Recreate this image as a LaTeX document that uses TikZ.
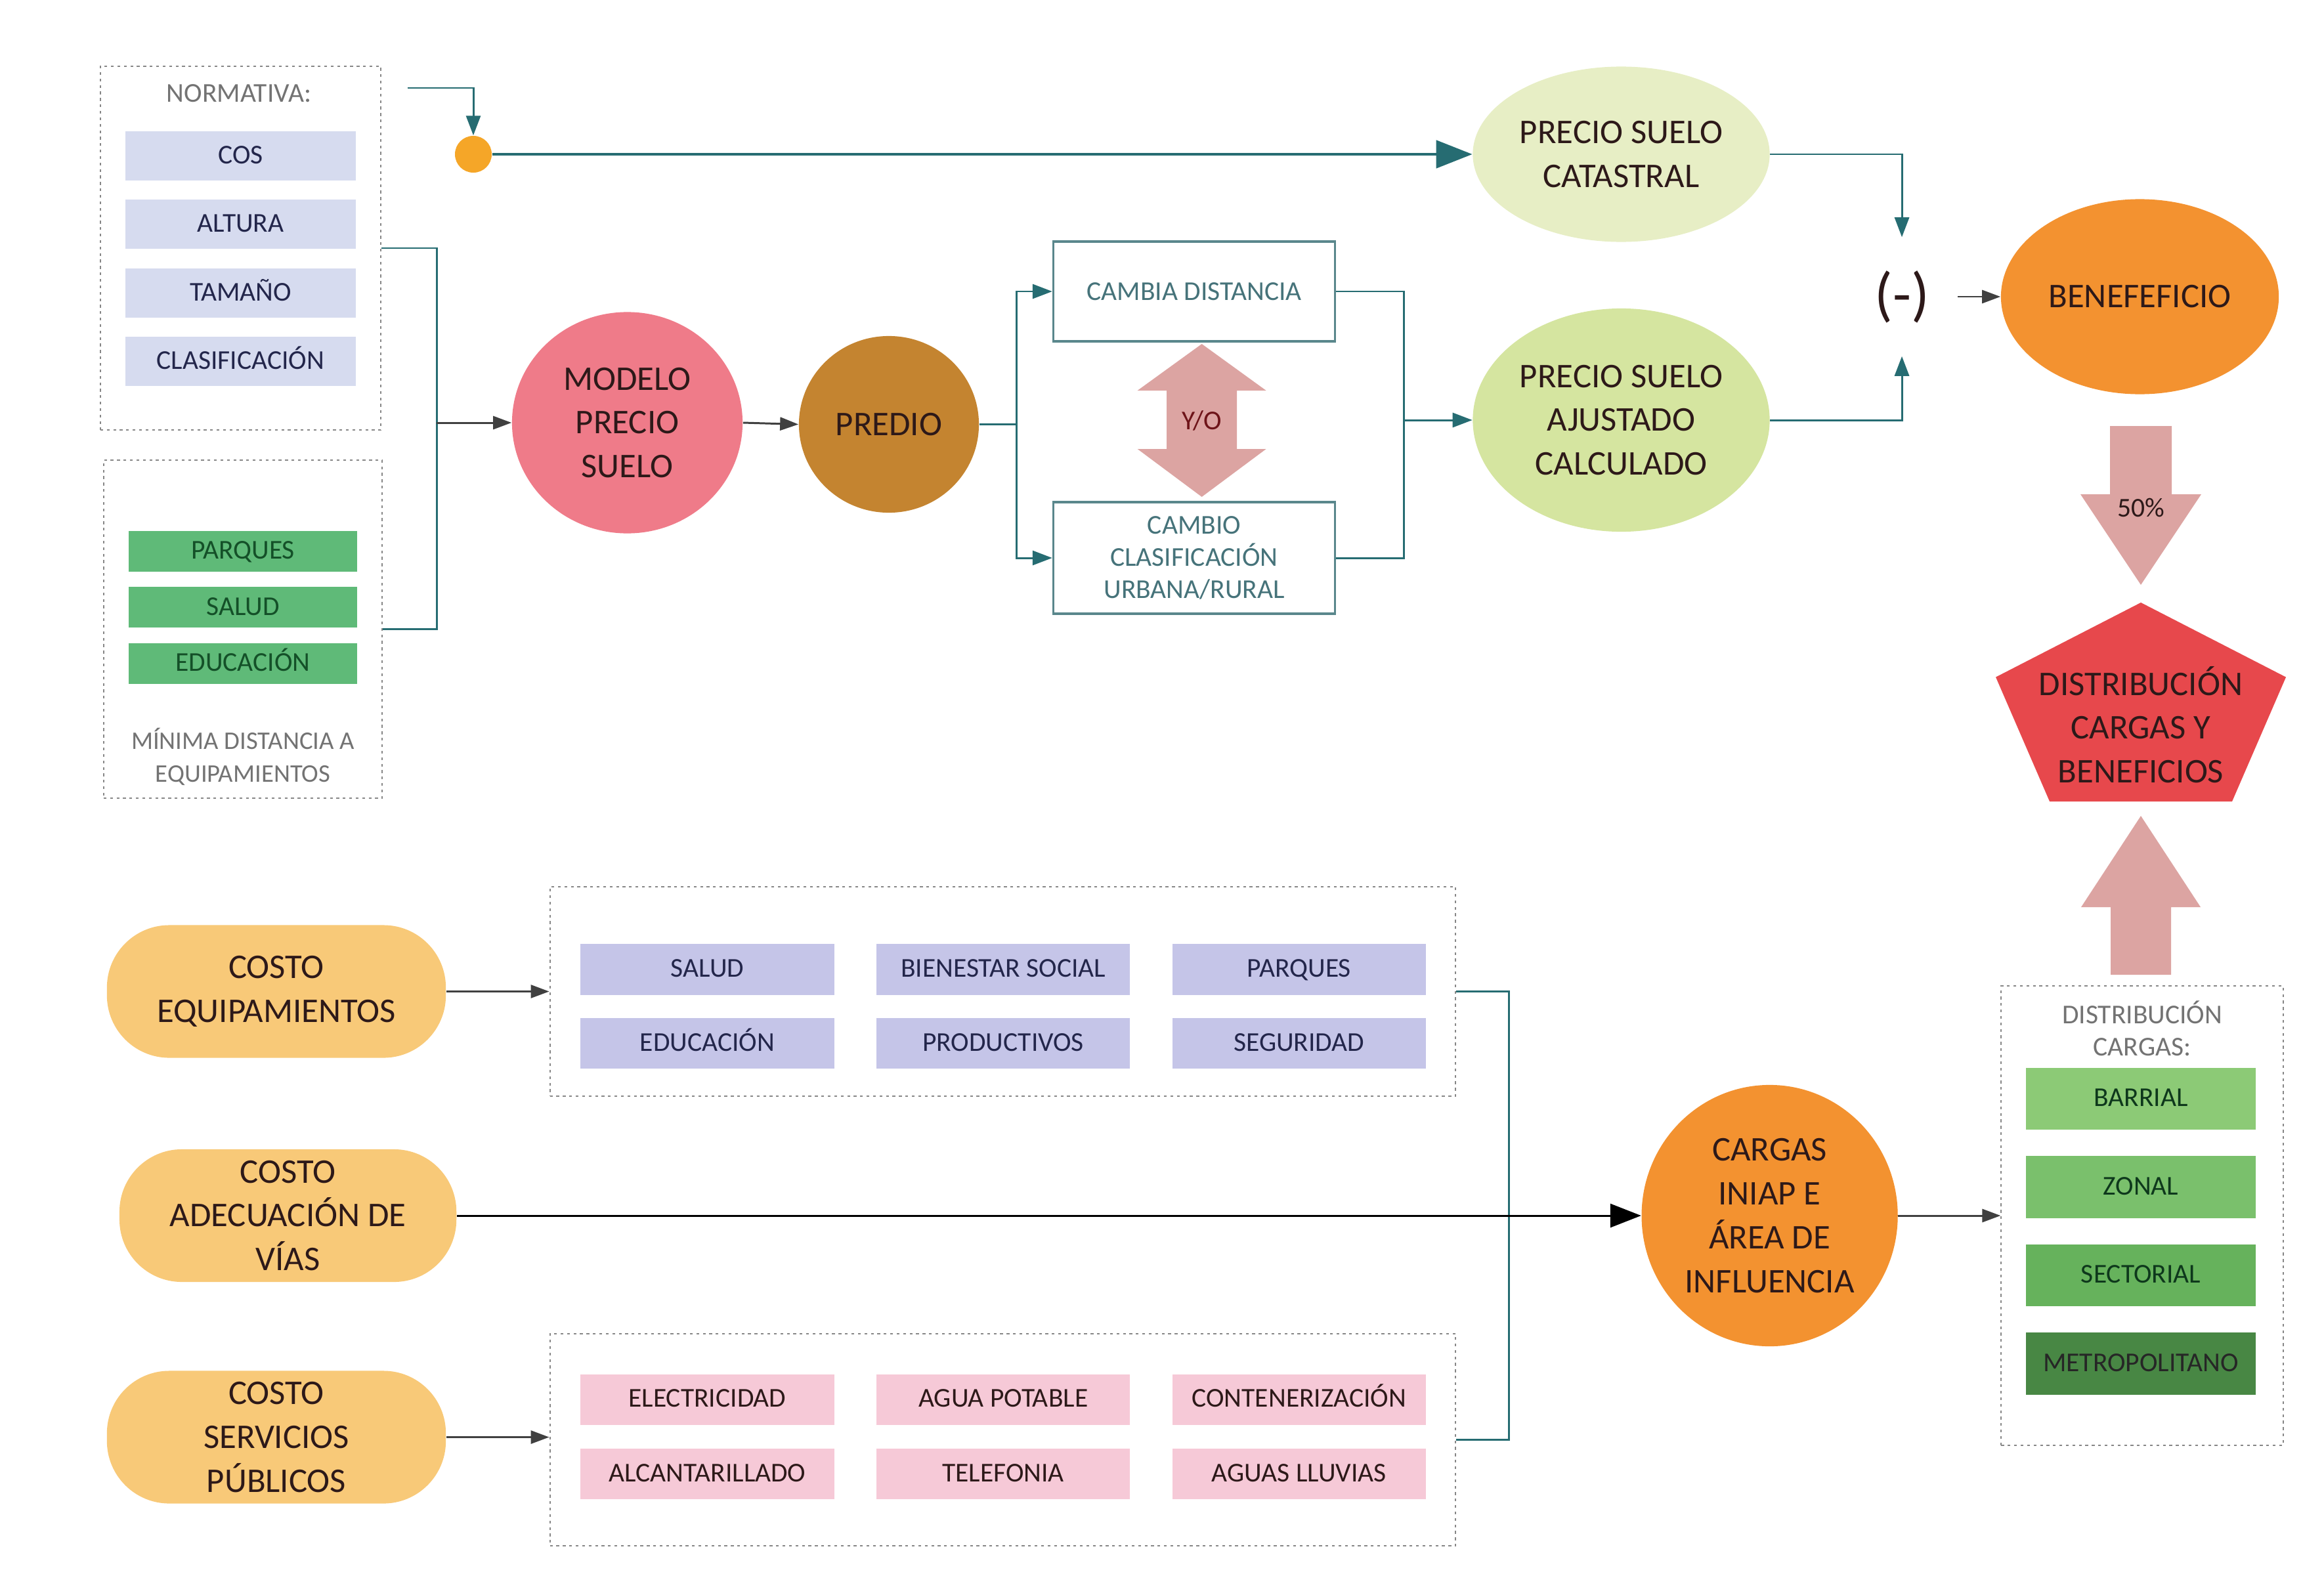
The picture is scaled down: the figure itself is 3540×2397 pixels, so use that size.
\documentclass[tikz,border=0pt]{standalone}
\usepackage{fontspec}
\setmainfont{Carlito}
\usepackage{tikz}
\usepackage{xcolor}
\usetikzlibrary{arrows.meta, positioning, shapes.geometric}
\definecolor{tealLine}{RGB}{38,108,114}
\definecolor{tealBox}{RGB}{90,135,140}
\definecolor{grpGray}{RGB}{135,135,135}
\definecolor{lavTop}{RGB}{214,219,239}
\definecolor{lavLow}{RGB}{197,197,232}
\definecolor{pinkBox}{RGB}{246,201,215}
\definecolor{grnMid}{RGB}{95,186,120}
\definecolor{grnBarrial}{RGB}{140,202,118}
\definecolor{grnZonal}{RGB}{122,192,108}
\definecolor{grnSect}{RGB}{102,178,92}
\definecolor{grnMetro}{RGB}{72,135,68}
\definecolor{costoOrange}{RGB}{248,201,120}
\definecolor{modeloPink}{RGB}{239,123,137}
\definecolor{predioBrown}{RGB}{196,132,48}
\definecolor{catastralGreen}{RGB}{231,238,197}
\definecolor{ajustadoGreen}{RGB}{213,229,160}
\definecolor{okOrange}{RGB}{243,146,48}
\definecolor{dotOrange}{RGB}{245,166,40}
\definecolor{pentRed}{RGB}{231,72,76}
\definecolor{blockPink}{RGB}{220,164,162}
\definecolor{txtDark}{RGB}{45,25,25}
\definecolor{txtNavy}{RGB}{35,38,75}
\definecolor{txtGreen}{RGB}{20,80,40}
\definecolor{txtTeal}{RGB}{70,115,122}
\definecolor{yoRed}{RGB}{110,20,25}

\begin{document}
\begin{tikzpicture}[
    x=0.01cm, y=-0.01cm,
    every node/.style={font=\fontsize{11.8}{14}\selectfont, text=txtDark, inner sep=2pt},
    bigf/.style  ={font=\fontsize{15}{19}\selectfont, align=center},
    group/.style ={rectangle, draw=grpGray, line width=0.6pt, dash pattern=on 1.2pt off 1.6pt, minimum width=4.27cm},
    lbl/.style   ={text=grpGray!85!black, align=center},
    flat/.style  ={rectangle, text height=1.7ex, text depth=0.3ex},
    lav/.style   ={flat, fill=lavTop, text=txtNavy, minimum width=3.51cm, minimum height=0.75cm},
    grn/.style   ={flat, fill=grnMid, text=txtGreen, minimum width=3.48cm, minimum height=0.62cm},
    lavl/.style  ={flat, fill=lavLow, text=txtNavy, minimum width=3.86cm, minimum height=0.77cm},
    pnk/.style   ={flat, fill=pinkBox, minimum width=3.86cm, minimum height=0.77cm},
    lvl/.style   ={flat, text=txtGreen!70!black, minimum width=3.5cm, minimum height=0.94cm},
    chg/.style   ={rectangle, draw=tealBox, line width=0.9pt, fill=white, text=txtTeal, align=center, minimum width=4.29cm},
    blob/.style  ={ellipse, bigf, inner sep=0pt},
    costo/.style ={rectangle, rounded corners=0.95cm, fill=costoOrange, bigf, minimum width=5.16cm, minimum height=2.02cm},
    dot/.style   ={circle, fill=dotOrange, minimum size=0.56cm, inner sep=0pt},
    blockarrow/.style={fill=blockPink},
    tline/.style ={draw=tealLine, line width=0.85pt},
    tarrow/.style={tline, -{Triangle[length=0.3cm, width=0.22cm]}},
    tbig/.style  ={draw=tealLine, line width=1.4pt, -{Triangle[length=0.55cm, width=0.42cm]}},
    karrow/.style={draw=black!75, line width=0.85pt, -{Triangle[length=0.28cm, width=0.2cm]}},
    kbig/.style  ={draw=black, line width=0.85pt, -{Triangle[length=0.47cm, width=0.36cm]}}
]
\useasboundingbox (0,0) rectangle (3540,2397);

% normativa and distances
\node[group, minimum height=5.54cm] (normativa) at (366.5,378) {};
\node[lbl] (normlbl) at (364,142) {NORMATIVA:};
\node[lav] (cos) at (366.5,237.5) {COS};
\node[lav, below=0.28cm of cos] (altura) {ALTURA};
\node[lav, below=0.28cm of altura] (tamano) {TAMAÑO};
\node[lav, below=0.28cm of tamano] (clasif) {CLASIFICACIÓN};
\node[group, minimum width=4.24cm, minimum height=5.15cm] (mindist) at (370,958.5) {};
\node[grn] (parques) at (370,840) {PARQUES};
\node[grn, below=0.22cm of parques] (salud) {SALUD};
\node[grn, below=0.22cm of salud] (educ) {EDUCACIÓN};
\node[lbl, font=\fontsize{11}{14.2}\selectfont] (mindistlbl) at (370,1153) {MÍNIMA DISTANCIA A\\EQUIPAMIENTOS};

% price chain
\node[dot] (dot) at (721,235) {};
\coordinate (dotin) at (620.5,134);
\node[blob, fill=modeloPink, minimum width=3.51cm, minimum height=3.37cm] (modelo) at (955.5,644) {MODELO\\PRECIO\\SUELO};
\node[blob, fill=predioBrown, minimum width=2.74cm, minimum height=2.69cm] (predio) at (1354,646.5) {PREDIO};
\node[chg, minimum height=1.52cm] (cambia) at (1819,444) {CAMBIA DISTANCIA};
\node[chg, minimum height=1.70cm] (cambio) at (1819,850) {CAMBIO\\CLASIFICACIÓN\\URBANA/RURAL};
\fill[blockarrow] (1830.6,524) -- (1928.6,595) -- (1884,595) -- (1884,684) -- (1928.6,684) -- (1830.6,757)
  -- (1732.6,684) -- (1777,684) -- (1777,595) -- (1732.6,595) -- cycle;
\node[text=yoRed] (yo) at (1830.6,640.5) {Y/O};
\node[blob, fill=catastralGreen, minimum width=4.52cm, minimum height=2.67cm] (catastral) at (2469.5,235) {PRECIO SUELO\\CATASTRAL};
\node[blob, fill=ajustadoGreen, minimum width=4.52cm, minimum height=3.40cm] (ajustado) at (2469.5,640) {PRECIO SUELO\\AJUSTADO\\CALCULADO};
\node[font=\fontsize{26}{30}\selectfont, minimum width=1.68cm, minimum height=1.8cm] (minus) at (2897,452) {(-)};
\node[blob, fill=okOrange, minimum width=4.23cm, minimum height=2.97cm] (benef) at (3259.5,452) {BENEFEFICIO};
\fill[blockarrow] (3214,649) -- (3308,649) -- (3308,753) -- (3353,753) -- (3261,891) -- (3169,753) -- (3214,753) -- cycle;
\node (pct) at (3261,774) {50\%};
\fill[pentRed] (3261,918) -- (3482,1031.6) -- (3400,1221) -- (3122,1221) -- (3040,1031.6) -- cycle;
\node[bigf] (distrib) at (3261,1104) {DISTRIBUCIÓN\\CARGAS Y\\BENEFICIOS};
\fill[blockarrow] (3261,1243) -- (3352,1382) -- (3307,1382) -- (3307,1485) -- (3215,1485) -- (3215,1382) -- (3170,1382) -- cycle;

% costs
\node[costo] (costeq) at (421,1510.5) {COSTO\\EQUIPAMIENTOS};
\node[costo, minimum width=5.13cm] (costvias) at (438.6,1852) {COSTO\\ADECUACIÓN DE\\VÍAS};
\node[costo] (costserv) at (421,2189.5) {COSTO\\SERVICIOS\\PÚBLICOS};
\node[group, minimum width=13.79cm, minimum height=3.19cm] (eqgrid) at (1527.5,1510.5) {};
\node[lavl] (salud2) at (1077.5,1477) {SALUD};
\node[lavl, right=0.63cm of salud2] (bienestar) {BIENESTAR SOCIAL};
\node[lavl, right=0.63cm of bienestar] (parques2) {PARQUES};
\node[lavl, below=0.34cm of salud2] (educ2) {EDUCACIÓN};
\node[lavl, below=0.34cm of bienestar] (productivos) {PRODUCTIVOS};
\node[lavl, below=0.34cm of parques2] (seguridad) {SEGURIDAD};
\node[group, minimum width=13.79cm, minimum height=3.23cm] (servgrid) at (1527.5,2193.5) {};
\node[pnk] (elect) at (1077.5,2132) {ELECTRICIDAD};
\node[pnk, right=0.63cm of elect] (agua) {AGUA POTABLE};
\node[pnk, right=0.63cm of agua] (conten) {CONTENERIZACIÓN};
\node[pnk, below=0.35cm of elect] (alcant) {ALCANTARILLADO};
\node[pnk, below=0.35cm of agua] (telef) {TELEFONIA};
\node[pnk, below=0.35cm of conten] (lluvias) {AGUAS LLUVIAS};
\node[blob, fill=okOrange, minimum width=3.9cm, minimum height=3.98cm] (cargas) at (2695.6,1852) {CARGAS\\INIAP E\\ÁREA DE\\INFLUENCIA};
\node[group, minimum width=4.29cm, minimum height=7.00cm] (distcargas) at (3263,1852) {};
\node[lbl] (distlbl) at (3263,1567) {DISTRIBUCIÓN\\CARGAS:};
\node[lvl, fill=grnBarrial] (barrial) at (3261,1674) {BARRIAL};
\node[lvl, fill=grnZonal, below=0.39cm of barrial] (zonal) {ZONAL};
\node[lvl, fill=grnSect, below=0.39cm of zonal] (sectorial) {SECTORIAL};
\node[lvl, fill=grnMetro, text=black!85, below=0.39cm of sectorial] (metro) {METROPOLITANO};

% connectors
\coordinate (join) at (665,644);
\coordinate (split) at (1548.5,646.5);
\coordinate (merge) at (2138,640);
\coordinate (brk) at (2298,1852);
\draw[tarrow] (dotin) -| (dot.north);
\draw[tbig] (dot.east) -- (catastral.west);
\draw[tline] (normativa.east) -| (join) |- (mindist.east);
\draw[karrow] (join) -- (modelo.west);
\draw[karrow] (modelo.east) -- (predio.west);
\draw[tline] (predio.east) -- (split);
\draw[tarrow] (split) |- (cambia.west);
\draw[tarrow] (split) |- (cambio.west);
\draw[tline] (cambia.east) -| (merge) |- (cambio.east);
\draw[tarrow] (merge) -- (ajustado.west);
\draw[tarrow] (catastral.east) -| (minus.north);
\draw[tarrow] (ajustado.east) -| (minus.south);
\draw[karrow] (minus.east) -- (benef.west);
\draw[karrow] (costeq.east) -- (eqgrid.west);
\draw[karrow] (costserv.east) -- (costserv.east -| servgrid.west);
\draw[tline] (eqgrid.east) -| (brk) |- (servgrid.east);
\draw[kbig] (costvias.east) -- (cargas.west);
\draw[karrow] (cargas.east) -- (distcargas.west);
\end{tikzpicture}
\end{document}
